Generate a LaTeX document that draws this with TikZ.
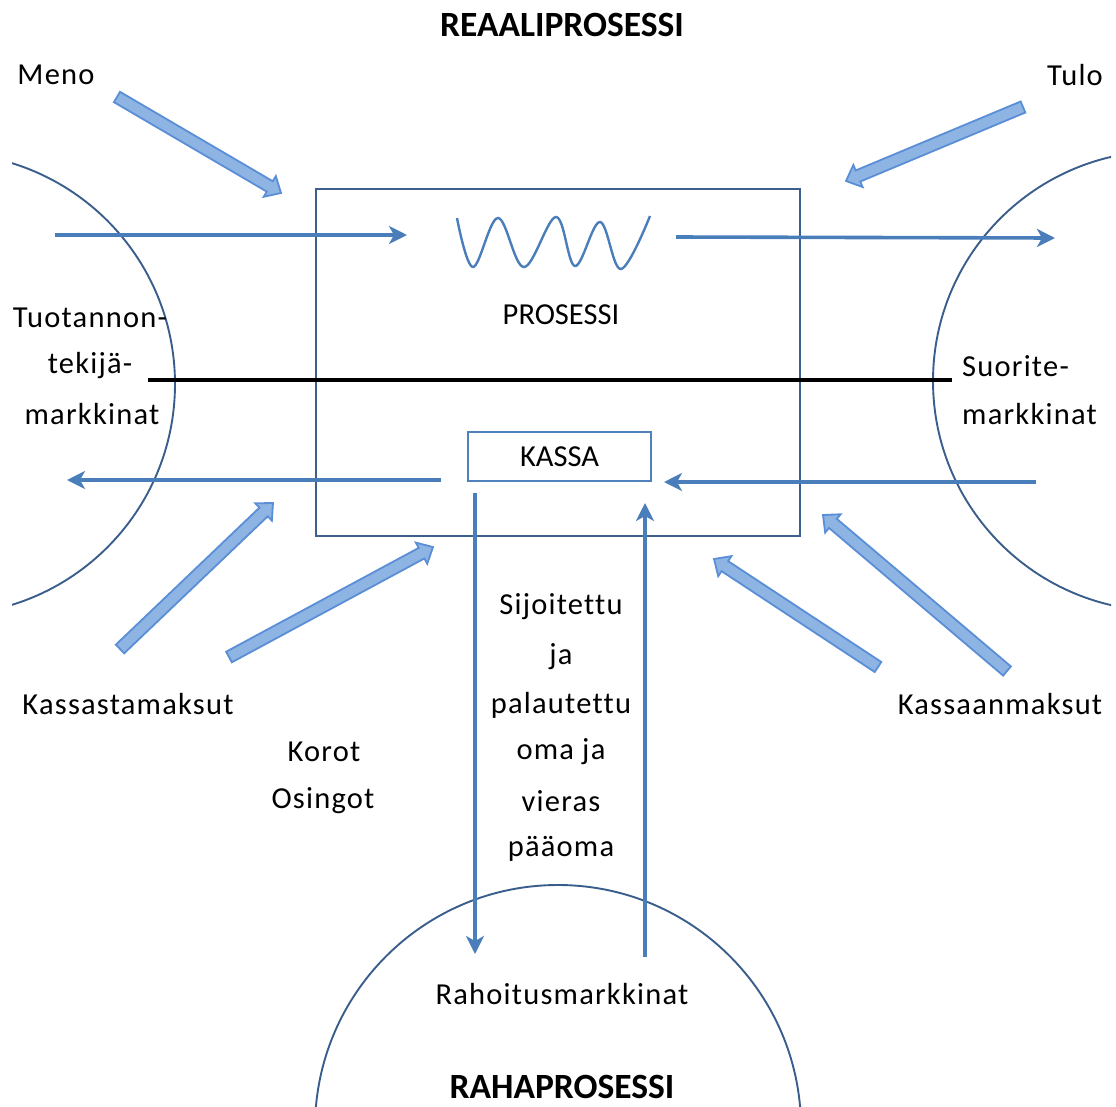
\documentclass[tikz,border=0pt]{standalone}
\usepackage{fontspec}
\setmainfont{Carlito}[LetterSpace=4,Ligatures={NoCommon}]
\newfontfamily\plainfont{Carlito}[Ligatures={NoCommon}]
\usetikzlibrary{arrows.meta,calc}
\definecolor{boxblue}{HTML}{3C5F8E}
\definecolor{circblue}{HTML}{3A5E8C}
\definecolor{arrblue}{HTML}{4A7EBB}
\definecolor{kassablue}{HTML}{4F81BD}
\definecolor{fatfill}{HTML}{8DB4E2}
\definecolor{fatline}{HTML}{5A8ED6}
\tikzset{
  lbl/.style={inner sep=0pt, font=\fontsize{30.5}{36}\selectfont, align=center},
  ttl/.style={inner sep=0pt, font=\plainfont\bfseries\fontsize{35.5}{42}\selectfont},
  thin/.style={draw=arrblue, line width=3.6pt, -{Stealth[length=18pt,width=18pt,inset=5pt]}},
  fatarr/.style={draw=fatline, fill=fatfill, line width=1.8pt, line join=miter},
  circ/.style={draw=circblue, line width=1.9pt},
}
\newcommand\fatarrow[2]{%
  \coordinate (fh) at ($(#2)!13pt!(#1)$);
  \draw[fatarr] ($(#1)!6pt!90:(#2)$) -- ($(fh)!6pt!90:(#2)$) -- ($(fh)!12pt!90:(#2)$) -- (#2)
     -- ($(fh)!12pt!-90:(#2)$) -- ($(fh)!6pt!-90:(#2)$) -- ($(#1)!6pt!-90:(#2)$) -- cycle;}
\begin{document}
\begin{tikzpicture}[x=1pt,y=-1pt]
\useasboundingbox (0,0) rectangle (1116,1106);
% circles
\begin{scope}
  \clip (12,0) rectangle (1111,1106);
  \draw[circ] (-56,384) circle[radius=231];
  \draw[circ] (1163,381) circle[radius=230];
  \draw[circ] (558,1128) circle[radius=243];
\end{scope}
% main box
\node[draw=boxblue, line width=2pt, minimum width=484pt, minimum height=347pt, inner sep=0pt] (main) at (558,362.5) {};
% black line
\coordinate (bl1) at (148,380);
\coordinate (bl2) at (952,380);
\draw[line width=4pt, black] (bl1) -- (bl2);
% kassa
\node[draw=kassablue, line width=2pt, minimum width=183pt, minimum height=49pt, inner sep=0pt, font=\plainfont\fontsize{30.5}{36}\selectfont] (kassa) at (559.5,456.5) {KASSA};
% wave
\draw[draw=arrblue, line width=2.4pt] plot[smooth, tension=0.6] coordinates {(457,218) (473,267) (498,218) (524,267) (556,217) (575,266) (600,222) (621,269) (650,216)};
% thin arrows
\coordinate (a1s) at (55,235);   \coordinate (a1e) at (407,235);
\coordinate (a2s) at (676,237);  \coordinate (a2e) at (1055,238);
\coordinate (a3s) at (441,480);  \coordinate (a3e) at (67,480);
\coordinate (a4s) at (1036,482); \coordinate (a4e) at (664,482);
\coordinate (a5s) at (475,493);  \coordinate (a5e) at (475,954);
\coordinate (a6s) at (645,957);  \coordinate (a6e) at (645,503);
\draw[thin] (a1s) -- (a1e);
\draw[thin] (a2s) -- (a2e);
\draw[thin] (a3s) -- (a3e);
\draw[thin] (a4s) -- (a4e);
\draw[thin] (a5s) -- (a5e);
\draw[thin] (a6s) -- (a6e);
% fat arrows
\coordinate (m1) at (117,97);   \coordinate (m2) at (281,193);
\coordinate (t1) at (1023,107); \coordinate (t2) at (846,181);
\coordinate (k1) at (120,649);  \coordinate (k2) at (273,503);
\coordinate (k3) at (229,657);  \coordinate (k4) at (433,547);
\coordinate (p1) at (878,667);  \coordinate (p2) at (714,559);
\coordinate (p3) at (1007,671); \coordinate (p4) at (823,515);
\fatarrow{m1}{m2}
\fatarrow{t1}{t2}
\fatarrow{k1}{k2}
\fatarrow{k3}{k4}
\fatarrow{p1}{p2}
\fatarrow{p3}{p4}
% texts
\node[ttl] (reaali) at (562,25) {REAALIPROSESSI};
\node[ttl] (raha) at (562,1087) {RAHAPROSESSI};
\node[lbl] (meno) at (56,75) {Meno};
\node[lbl] (tulo) at (1075,75) {Tulo};
\node[lbl, font=\plainfont\fontsize{30.5}{36}\selectfont] (pros) at (561,315) {PROSESSI};
\node[lbl] (tuot1) at (90,318) {Tuotannon-};
\node[lbl] (tuot2) at (90,366) {tekijä-};
\node[lbl] (tuot3) at (92,414) {markkinat};
\node[lbl, anchor=west] (suo1) at (962,366) {Suorite-};
\node[lbl, anchor=west] (suo2) at (962,414) {markkinat};
\node[lbl] (kstm) at (128,704) {Kassastamaksut};
\node[lbl] (kanm) at (1000,704) {Kassaanmaksut};
\node[lbl] (korot) at (324,752) {Korot};
\node[lbl] (osing) at (323,801) {Osingot};
\node[lbl] (s1) at (561,607) {Sijoitettu};
\node[lbl] (s2) at (561,657) {ja};
\node[lbl] (s3) at (561,705) {palautettu};
\node[lbl] (s4) at (561,752) {oma ja};
\node[lbl] (s5) at (561,801) {vieras};
\node[lbl] (s6) at (561,849) {pääoma};
\node[lbl] (rahoit) at (562,994) {Rahoitusmarkkinat};
\end{tikzpicture}
\end{document}
